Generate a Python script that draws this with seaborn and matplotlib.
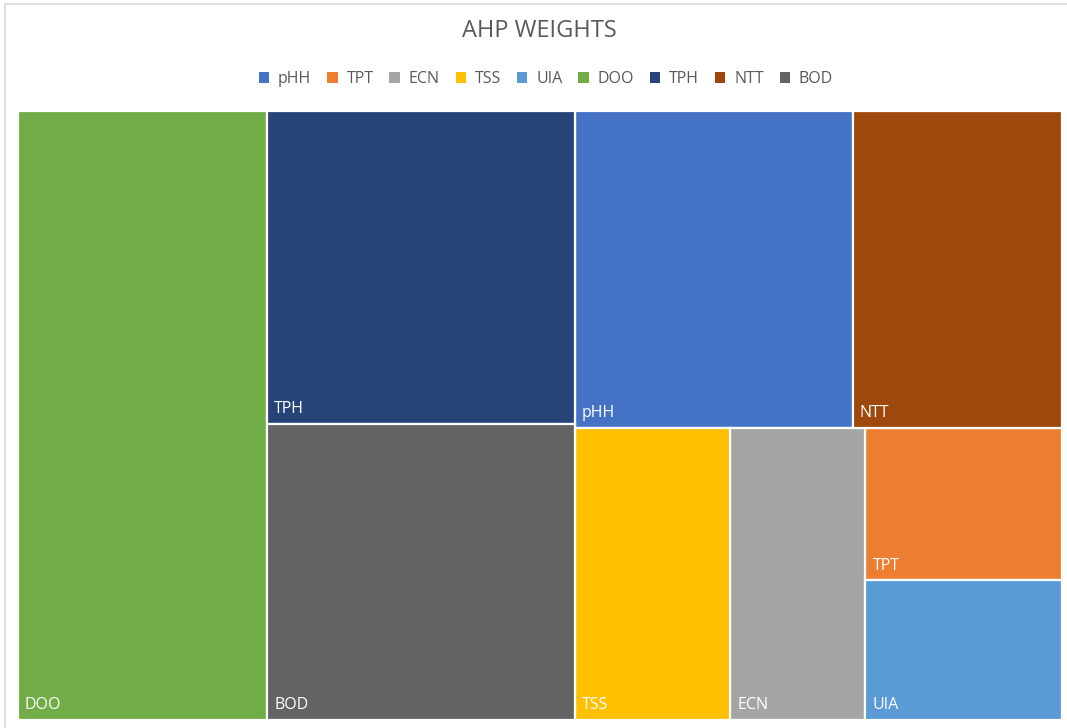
import matplotlib
matplotlib.use("Agg")
import matplotlib.pyplot as plt
from matplotlib.patches import Patch, Rectangle
import seaborn as sns

# AHP weights per parameter (legend / data order)
labels = ["pHH", "TPT", "ECN", "TSS", "UIA", "DOO", "TPH", "NTT", "BOD"]
weights = [0.138, 0.047, 0.062, 0.071, 0.043, 0.238, 0.151, 0.104, 0.143]
colors = ["#4472C4", "#ED7D31", "#A5A5A5", "#FFC000", "#5B9BD5",
          "#70AD47", "#264478", "#9E480E", "#636363"]

value = dict(zip(labels, weights))
color = dict(zip(labels, sns.color_palette(colors)))

# Slice-and-dice groups: "h" splits left-to-right, "v" splits top-to-bottom
layout_tree = ("h", [
    "DOO",
    ("v", ["TPH", "BOD"]),
    ("v", [("h", ["pHH", "NTT"]),
           ("h", ["TSS", "ECN", ("v", ["TPT", "UIA"])])]),
])


def total(node):
    if isinstance(node, str):
        return value[node]
    return sum(total(c) for c in node[1])


def place(node, x, y, w, h, out):
    """Recursively assign rectangles proportional to weights."""
    if isinstance(node, str):
        out[node] = (x, y, w, h)
        return
    direction, children = node
    s = total(node)
    for c in children:
        frac = total(c) / s
        if direction == "h":
            place(c, x, y, w * frac, h, out)
            x += w * frac
        else:
            place(c, x, y, w, h * frac, out)
            y += h * frac


rects = {}
place(layout_tree, 0.0, 0.0, 1.0, 1.0, rects)

sns.set_theme(style="white")
plt.rcParams["font.family"] = ["Open Sans", "DejaVu Sans"]

W, H = 1067, 728
fig = plt.figure(figsize=(W / 100, H / 100), dpi=100)
fig.patch.set_facecolor("white")

ax = fig.add_axes([18 / W, (H - 720) / H, (1062 - 18) / W, (720 - 111) / H])
ax.set_xlim(0, 1)
ax.set_ylim(1, 0)
ax.axis("off")

for name in labels:
    x, y, w, h = rects[name]
    ax.bar(x, h, width=w, bottom=y, align="edge", color=color[name],
           edgecolor="white", linewidth=1.6)
    ax.annotate(name, xy=(x, y + h), xytext=(5, 5), textcoords="offset points",
                color="white", fontsize=11.5, ha="left", va="bottom")

fig.text(539 / W, 1 - 31 / H, "AHP WEIGHTS", ha="center", va="center",
         fontsize=17, color="#595959")

handles = [Patch(facecolor=color[n], edgecolor="none", label=n) for n in labels]
leg = fig.legend(handles=handles, loc="center", ncol=len(labels),
                 bbox_to_anchor=(546 / W, 1 - 79 / H), frameon=False,
                 fontsize=11.5, handlelength=0.65, handleheight=0.65,
                 handletextpad=0.55, columnspacing=1.0)
for t in leg.get_texts():
    t.set_color("#595959")

# Chart area border
fig.patches.append(Rectangle((5 / W, -0.01), 1.2, 1 - 4 / H + 0.01,
                             transform=fig.transFigure, fill=False,
                             edgecolor="#D9D9D9", linewidth=1.2))

fig.savefig("out.png", dpi=100, facecolor="white")
